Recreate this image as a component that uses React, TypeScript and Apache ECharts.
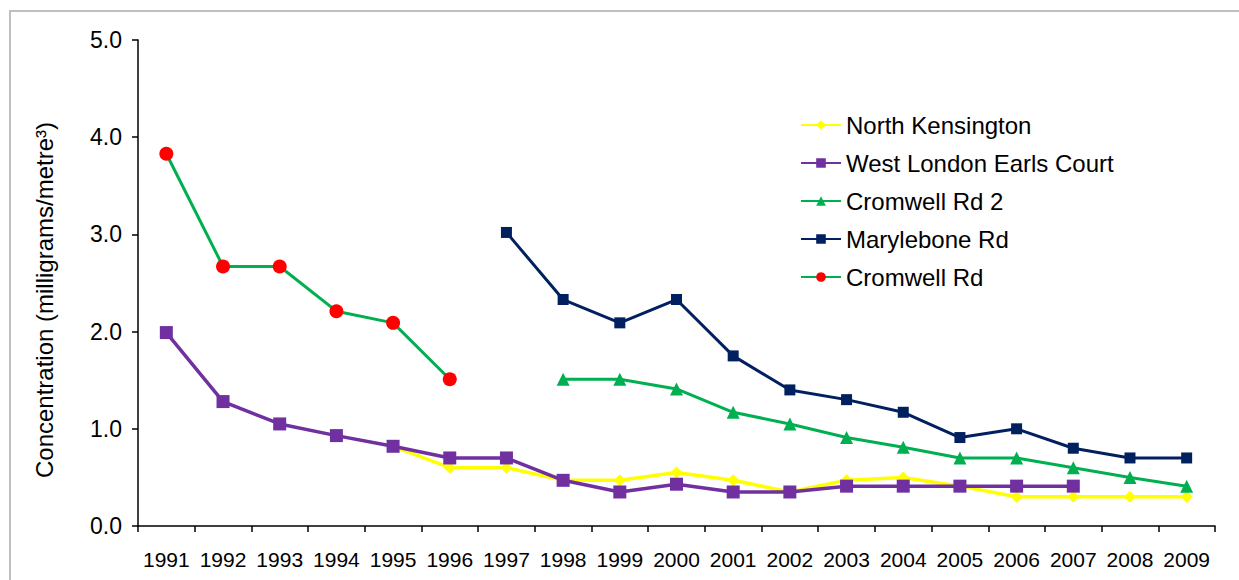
import React, { useEffect, useRef } from "react";
import * as echarts from "echarts";

const years = ["1991","1992","1993","1994","1995","1996","1997","1998","1999","2000","2001","2002","2003","2004","2005","2006","2007","2008","2009"];
const yTicks = [0, 1, 2, 3, 4, 5];

const northKensington = [null, null, null, null, 0.82, 0.6, 0.6, 0.47, 0.47, 0.55, 0.47, 0.35, 0.47, 0.5, 0.41, 0.3, 0.3, 0.3, 0.3];
const westLondonEarlsCourt = [1.99, 1.28, 1.05, 0.93, 0.82, 0.7, 0.7, 0.47, 0.35, 0.43, 0.35, 0.35, 0.41, 0.41, 0.41, 0.41, 0.41, null, null];
const cromwellRd2 = [null, null, null, null, null, null, null, 1.51, 1.51, 1.41, 1.17, 1.05, 0.91, 0.81, 0.7, 0.7, 0.6, 0.5, 0.41];
const marylaboneRd = [null, null, null, null, null, null, 3.02, 2.33, 2.09, 2.33, 1.75, 1.4, 1.3, 1.17, 0.91, 1.0, 0.8, 0.7, 0.7];
const cromwellRd = [3.83, 2.67, 2.67, 2.21, 2.09, 1.51, null, null, null, null, null, null, null, null, null, null, null, null, null];

const seriesNames = ["North Kensington", "West London Earls Court", "Cromwell Rd 2", "Marylebone Rd", "Cromwell Rd"];

export default function App() {
  const ref = useRef<HTMLDivElement>(null);
  useEffect(() => {
    if (!ref.current) return;
    const chart = echarts.init(ref.current, null, { renderer: "svg" });
    const font = "Liberation Sans, Arial, sans-serif";
    chart.setOption({
      animation: false,
      backgroundColor: "#ffffff",
      textStyle: { fontFamily: font },
      grid: { left: 138, top: 40, right: 24, bottom: 54, containLabel: false },
      legend: {
        orient: "vertical",
        left: 795,
        top: 108,
        itemWidth: 40,
        itemHeight: 12,
        itemGap: 14,
        data: seriesNames,
        textStyle: { fontSize: 24, color: "#000", fontFamily: font, lineHeight: 24, padding: [0, 0, 0, 0] },
      },
      xAxis: {
        type: "category",
        data: years,
        boundaryGap: true,
        axisLine: { lineStyle: { color: "#000", width: 1.5 } },
        axisTick: { show: true, length: 6, lineStyle: { color: "#000", width: 1.5 } },
        axisLabel: { color: "#000", fontSize: 21, fontFamily: font, margin: 23, interval: 0 },
        splitLine: { show: false },
      },
      yAxis: {
        type: "value",
        min: yTicks[0],
        max: yTicks[yTicks.length - 1],
        interval: 1,
        axisLine: { show: true, lineStyle: { color: "#000", width: 1.5 } },
        axisTick: { show: true, length: 6, lineStyle: { color: "#000", width: 1.5 } },
        axisLabel: { color: "#000", fontSize: 23, margin: 16, formatter: (v: number) => v.toFixed(1) },
        splitLine: { show: false },
      },
      graphic: [
        {
          type: "rect",
          shape: { x: 10, y: 11, width: 1300, height: 650 },
          style: { fill: "none", stroke: "#BFBFBF", lineWidth: 2 },
          silent: true,
        },
        {
          type: "text",
          x: 44,
          y: 300,
          rotation: Math.PI / 2,
          style: {
            text: "Concentration (milligrams/metre³)",
            font: "24px Liberation Sans, Arial, sans-serif",
            fill: "#000",
            align: "center",
            verticalAlign: "middle",
          },
        },
      ],
      series: [
        {
          name: seriesNames[0],
          type: "line",
          data: northKensington,
          symbol: "diamond",
          symbolSize: 12,
          lineStyle: { color: "#FFFF00", width: 3.5 },
          itemStyle: { color: "#FFFF00" },
          z: 1,
        },
        {
          name: seriesNames[1],
          type: "line",
          data: westLondonEarlsCourt,
          symbol: "rect",
          symbolSize: 13,
          lineStyle: { color: "#7030A0", width: 3.5 },
          itemStyle: { color: "#7030A0" },
          z: 2,
        },
        {
          name: seriesNames[2],
          type: "line",
          data: cromwellRd2,
          symbol: "triangle",
          symbolSize: 13,
          lineStyle: { color: "#00B050", width: 3 },
          itemStyle: { color: "#00B050" },
          z: 3,
        },
        {
          name: seriesNames[3],
          type: "line",
          data: marylaboneRd,
          symbol: "rect",
          symbolSize: 11,
          lineStyle: { color: "#002060", width: 3 },
          itemStyle: { color: "#002060" },
          z: 4,
        },
        {
          name: seriesNames[4],
          type: "line",
          data: cromwellRd,
          symbol: "circle",
          symbolSize: 14,
          lineStyle: { color: "#00B050", width: 3 },
          itemStyle: { color: "#FF0000" },
          z: 5,
        },
      ],
    });
    return () => chart.dispose();
  }, []);
  return <div ref={ref} style={{ position: "absolute", left: 0, top: 0, width: 1239, height: 580 }} />;
}
